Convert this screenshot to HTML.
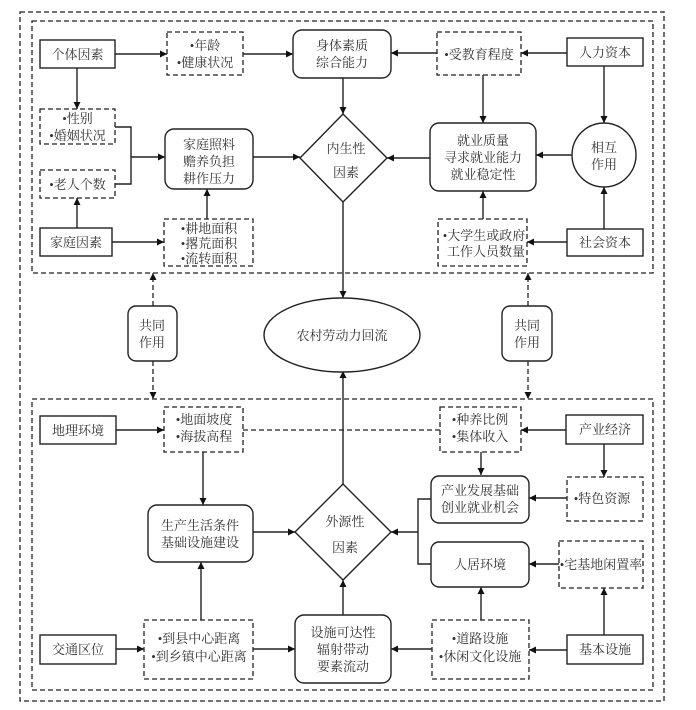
<!DOCTYPE html>
<html><head><meta charset="utf-8"><style>
html,body{margin:0;padding:0;background:#fff}
svg{display:block}
text{font-family:"Liberation Serif","Noto Serif CJK SC",serif;font-size:13px;fill:#333;text-anchor:middle}
.s{fill:#fff;stroke:#222;stroke-width:1.4}
.d{fill:#fff;stroke:#222;stroke-width:1.3;stroke-dasharray:5,3}
.l{stroke:#222;stroke-width:1.4;fill:none}
.dl{stroke:#222;stroke-width:1.3;fill:none;stroke-dasharray:5,3}
</style></head><body>
<svg width="696" height="710" viewBox="0 0 696 710" xmlns="http://www.w3.org/2000/svg">
<defs><marker id="a" viewBox="0 0 10 10" refX="10" refY="5" markerWidth="7" markerHeight="7" orient="auto" markerUnits="userSpaceOnUse"><path d="M0,0 L10,5 L0,10 z" fill="#111"/></marker></defs>
<rect x="20" y="12" width="644" height="689" fill="none" class="dl"/>
<rect x="32" y="21" width="621" height="252" fill="none" class="dl"/>
<rect x="32" y="399" width="621" height="291" fill="none" class="dl"/>

<g class="l" marker-end="url(#a)">
<line x1="115" y1="54" x2="167" y2="54"/>
<line x1="243" y1="54" x2="293" y2="54"/>
<line x1="437" y1="53" x2="391" y2="53"/>
<line x1="567" y1="53" x2="521" y2="53"/>
<line x1="343" y1="78" x2="343" y2="114"/>
<line x1="77" y1="68" x2="77" y2="109"/>
<line x1="131" y1="157" x2="165" y2="157"/>
<line x1="253" y1="157" x2="300" y2="157"/>
<line x1="77" y1="228" x2="77" y2="198"/>
<line x1="112" y1="242" x2="164" y2="242"/>
<line x1="207" y1="219" x2="207" y2="189"/>
<line x1="483" y1="75" x2="483" y2="123"/>
<line x1="604" y1="66" x2="604" y2="123"/>
<line x1="572" y1="155" x2="536" y2="155"/>
<line x1="430" y1="158" x2="387" y2="158"/>
<line x1="483" y1="219" x2="483" y2="191"/>
<line x1="567" y1="242" x2="527" y2="242"/>
<line x1="604" y1="229" x2="604" y2="187"/>
<line x1="343" y1="202" x2="343" y2="298"/>
<line x1="116" y1="430" x2="164" y2="430"/>
<line x1="566" y1="430" x2="521" y2="430"/>
<line x1="203" y1="452" x2="203" y2="505"/>
<line x1="481" y1="452" x2="481" y2="475"/>
<line x1="604" y1="444" x2="604" y2="477"/>
<line x1="567" y1="498" x2="529" y2="498"/>
<line x1="418" y1="532" x2="391" y2="532"/>
<line x1="559" y1="564" x2="529" y2="564"/>
<line x1="604" y1="635" x2="604" y2="588"/>
<line x1="481" y1="620" x2="481" y2="587"/>
<line x1="567" y1="650" x2="529" y2="650"/>
<line x1="432" y1="649" x2="391" y2="649"/>
<line x1="343" y1="615" x2="343" y2="580"/>
<line x1="343" y1="484" x2="343" y2="371"/>
<line x1="253" y1="532" x2="295" y2="532"/>
<line x1="201" y1="620" x2="201" y2="562"/>
<line x1="116" y1="649" x2="144" y2="649"/>
<line x1="253" y1="649" x2="295" y2="649"/>
</g>
<polyline class="l" points="115,127 131,127 131,184 115,184"/>
<polyline class="l" points="431,499 418,499 418,564 431,564"/>
<line class="dl" x1="243" y1="430" x2="440" y2="430"/>
<g class="dl" marker-end="url(#a)">
<line x1="153" y1="306" x2="153" y2="273"/>
<line x1="153" y1="361" x2="153" y2="399"/>
<line x1="528" y1="306" x2="528" y2="273"/>
<line x1="528" y1="361" x2="528" y2="399"/>
</g>

<!-- top boxes -->
<rect class="s" x="40" y="40" width="75" height="28"/><text x="77.5" y="59">个体因素</text>
<rect class="d" x="167" y="32" width="76" height="43"/><text x="205" y="50">•年龄</text><text x="205" y="67">•健康状况</text>
<rect class="s" x="293" y="30" width="98" height="48" rx="9"/><text x="342" y="50">身体素质</text><text x="342" y="67">综合能力</text>
<rect class="d" x="437" y="32" width="84" height="43"/><text x="479" y="59">•受教育程度</text>
<rect class="s" x="567" y="38" width="76" height="28"/><text x="605" y="57">人力资本</text>
<rect class="d" x="40" y="109" width="75" height="35"/><text x="77.5" y="123">•性别</text><text x="77.5" y="140">•婚姻状况</text>
<rect class="d" x="40" y="170" width="75" height="28"/><text x="77.5" y="189">•老人个数</text>
<rect class="s" x="165" y="129" width="88" height="60" rx="9"/><text x="209" y="149">家庭照料</text><text x="209" y="166">赡养负担</text><text x="209" y="183">耕作压力</text>
<polygon class="s" points="343,114 387,158 343,202 300,158"/><text x="346" y="153">内生性</text><text x="346" y="177">因素</text>
<rect class="s" x="430" y="123" width="106" height="68" rx="9"/><text x="483" y="145">就业质量</text><text x="483" y="162">寻求就业能力</text><text x="483" y="179">就业稳定性</text>
<circle class="s" cx="604" cy="155" r="32"/><text x="604" y="152">相互</text><text x="604" y="169">作用</text>
<rect class="s" x="40" y="228" width="72" height="28"/><text x="76" y="247">家庭因素</text>
<rect class="d" x="164" y="219" width="89" height="47"/><text x="209" y="233">•耕地面积</text><text x="209" y="248">•撂荒面积</text><text x="209" y="263">•流转面积</text>
<rect class="d" x="438" y="219" width="89" height="47"/><text x="484" y="240">•大学生或政府</text><text x="486" y="256">工作人员数量</text>
<rect class="s" x="567" y="229" width="76" height="27"/><text x="605" y="247">社会资本</text>

<!-- middle -->
<rect class="s" x="128" y="306" width="49" height="55" rx="8"/><text x="152" y="330">共同</text><text x="152" y="347">作用</text>
<rect class="s" x="502" y="306" width="50" height="55" rx="8"/><text x="527" y="330">共同</text><text x="527" y="347">作用</text>
<ellipse class="s" cx="342" cy="335" rx="78" ry="37"/><text x="342" y="340">农村劳动力回流</text>

<!-- bottom -->
<rect class="s" x="40" y="416" width="76" height="28"/><text x="78" y="435">地理环境</text>
<rect class="d" x="164" y="407" width="79" height="45"/><text x="204" y="424">•地面坡度</text><text x="204" y="441">•海拔高程</text>
<rect class="d" x="440" y="407" width="81" height="45"/><text x="480" y="424">•种养比例</text><text x="480" y="441">•集体收入</text>
<rect class="s" x="566" y="415" width="77" height="29"/><text x="605" y="434">产业经济</text>
<rect class="s" x="431" y="476" width="98" height="47" rx="8"/><text x="480" y="495">产业发展基础</text><text x="480" y="512">创业就业机会</text>
<rect class="d" x="567" y="477" width="76" height="44"/><text x="602" y="503">•特色资源</text>
<rect class="s" x="148" y="505" width="105" height="57" rx="9"/><text x="200" y="530">生产生活条件</text><text x="200" y="547">基础设施建设</text>
<polygon class="s" points="343,484 391,532 343,580 295,532"/><text x="345" y="526">外源性</text><text x="345" y="552">因素</text>
<rect class="s" x="431" y="542" width="98" height="45" rx="8"/><text x="480" y="569">人居环境</text>
<rect class="d" x="559" y="541" width="84" height="47"/><text x="601" y="569">•宅基地闲置率</text>
<rect class="s" x="40" y="635" width="76" height="29"/><text x="78" y="654">交通区位</text>
<rect class="d" x="144" y="620" width="109" height="59"/><text x="199" y="643">•到县中心距离</text><text x="199" y="661">•到乡镇中心距离</text>
<rect class="s" x="295" y="615" width="96" height="68" rx="9"/><text x="343" y="637">设施可达性</text><text x="343" y="654">辐射带动</text><text x="343" y="671">要素流动</text>
<rect class="d" x="432" y="620" width="97" height="59"/><text x="480" y="643">•道路设施</text><text x="480" y="661">•休闲文化设施</text>
<rect class="s" x="567" y="635" width="76" height="29"/><text x="605" y="654">基本设施</text>
</svg>
</body></html>
